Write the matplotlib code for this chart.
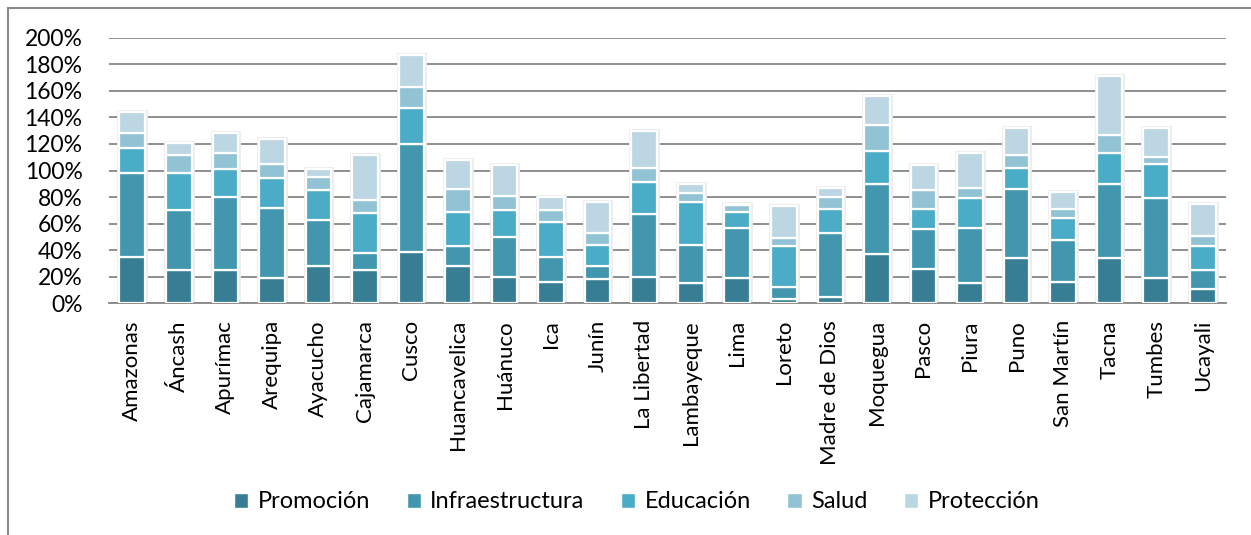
import numpy as np
import matplotlib.pyplot as plt
from matplotlib.patches import Rectangle, Patch
from matplotlib.ticker import PercentFormatter

regions = ["Amazonas", "Áncash", "Apurímac", "Arequipa", "Ayacucho", "Cajamarca",
           "Cusco", "Huancavelica", "Huánuco", "Ica", "Junín", "La Libertad",
           "Lambayeque", "Lima", "Loreto", "Madre de Dios", "Moquegua", "Pasco",
           "Piura", "Puno", "San Martín", "Tacna", "Tumbes", "Ucayali"]

# cumulative tops (%), then converted to segment heights
cum_promocion = [35, 25, 25, 19, 28, 25, 39, 28, 20, 16, 18, 20,
                 15, 19, 3, 5, 37, 26, 15, 34, 16, 34, 19, 11]
cum_infra = [98, 70, 80, 72, 63, 38, 120, 43, 50, 35, 28, 67,
             44, 57, 12, 53, 90, 56, 57, 86, 48, 90, 79, 25]
cum_educacion = [117, 98, 101, 94, 85, 68, 147, 69, 70, 61, 44, 91,
                 76, 69, 43, 71, 115, 71, 79, 102, 64, 113, 105, 43]
cum_salud = [128, 112, 113, 105, 95, 78, 163, 86, 81, 70, 53, 102,
             83, 74, 49, 80, 134, 85, 87, 112, 71, 127, 110, 51]
cum_proteccion = [144, 121, 128, 124, 101, 112, 187, 108, 104, 80, 76, 130,
                  90, 75, 73, 87, 156, 104, 113, 132, 84, 171, 132, 75]

series = ["Promoción", "Infraestructura", "Educación", "Salud", "Protección"]
colors = ["#377e94", "#4297af", "#4aacc6", "#92c3d5", "#bcd7e3"]

plt.rcParams["font.family"] = ["Lato", "DejaVu Sans"]

cums = np.array([cum_promocion, cum_infra, cum_educacion, cum_salud, cum_proteccion]) / 100.0
heights = np.diff(np.vstack([np.zeros(len(regions)), cums]), axis=0)

fig = plt.figure(figsize=(12.51, 5.35), dpi=100)
ax = fig.add_axes([0.0871, 0.433, 0.8929, 0.4966])

x = np.arange(len(regions))
width = 0.55

# soft shadow behind each stack
ax.bar(x, cums[-1], width, color="none", edgecolor="#ececec", linewidth=3.5, zorder=2)

bottom = np.zeros(len(regions))
for name, h, c in zip(series, heights, colors):
    ax.bar(x, h, width, bottom=bottom, color=c, edgecolor="white",
           linewidth=1.6, label=name, zorder=3)
    bottom += h

ax.set_xlim(-0.5, len(regions) - 0.5)
ax.set_ylim(0, 2.0)
ax.set_yticks(np.arange(0, 2.01, 0.2))
ax.yaxis.set_major_formatter(PercentFormatter(1.0, decimals=0))
ax.grid(axis="y", color="#878787", linewidth=1.3, zorder=0)
ax.set_axisbelow(True)
for s in ["top", "right", "left"]:
    ax.spines[s].set_visible(False)
ax.spines["bottom"].set_color("#878787")
ax.spines["bottom"].set_linewidth(1.3)
ax.tick_params(axis="both", length=0, colors="black")
ax.tick_params(axis="y", pad=19, labelsize=16.5)
ax.set_xticks(x)
ax.set_xticklabels(regions, rotation=90, fontsize=16)
ax.tick_params(axis="x", pad=12)

handles = [Patch(facecolor=c, edgecolor="white", label=n) for n, c in zip(series, colors)]
fig.legend(handles=handles, loc="center", bbox_to_anchor=(0.509, 0.062), ncol=5,
           frameon=False, fontsize=17, handlelength=0.6, handleheight=0.6,
           handletextpad=0.4, columnspacing=1.55)

# outer chart frame (right and bottom edges fall outside the picture)
fig.patches.append(Rectangle((0.006, -0.05), 1.1, 1.035, transform=fig.transFigure,
                             fill=False, edgecolor="#8a8a8a", linewidth=1.5))

fig.savefig("out.png", dpi=100)
